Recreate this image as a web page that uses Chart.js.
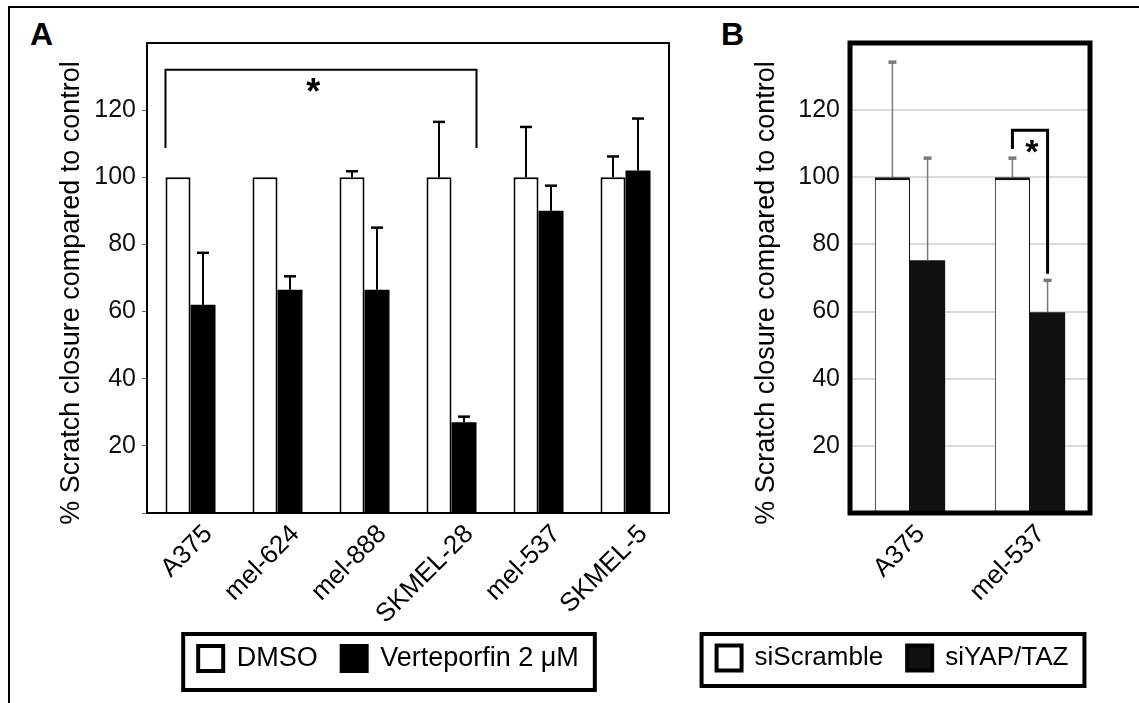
<!DOCTYPE html>
<html>
<head>
<meta charset="utf-8">
<script src="https://cdn.jsdelivr.net/npm/chart.js@4.4.1/dist/chart.umd.min.js"></script>
<style>
  body { margin: 0; background: #fff; width: 1139px; height: 703px; overflow: hidden; position: relative;
         font-family: 'Liberation Sans', Arial, Helvetica, sans-serif; }
  #frame { position: absolute; left: 8px; top: 6px; width: 1131px; height: 697px; box-sizing: border-box;
           border-top: 2px solid #000; border-left: 2px solid #000; }
  .tag { position: absolute; font-weight: bold; font-size: 32px; line-height: 32px; }
  #chartA { position: absolute; left: 0; top: 0; }
  #chartB { position: absolute; left: 640px; top: 0; }
</style>
</head>
<body>
<div id="frame"></div>
<div class="tag" style="left:30px; top:18px">A</div>
<div class="tag" style="left:721px; top:18px">B</div>
<canvas id="chartA" width="700" height="703"></canvas>
<canvas id="chartB" width="499" height="703"></canvas>
<script>
// panel A: verteporfin
const cellLinesA = ['A375', 'mel-624', 'mel-888', 'SKMEL-28', 'mel-537', 'SKMEL-5'];
const dmso = [100, 100, 100, 100, 100, 100];
const dmsoErr = [0, 0, 1.8, 16.5, 15, 6.2];
const verteporfin = [62, 66.5, 66.5, 27, 90, 102];
const verteporfinErr = [15.5, 4, 18.5, 1.7, 7.5, 15.5];

// panel B: siRNA
const cellLinesB = ['A375', 'mel-537'];
const siScramble = [100, 100];
const siScrambleErr = [34.3, 5.7];
const siYapTaz = [75.3, 59.8];
const siYapTazErr = [30.4, 9.5];

const yTicks = [20, 40, 60, 80, 100, 120];
const yMax = 140;
const yTitle = '% Scratch closure compared to control\u00a0\u00a0\u00a0\u00a0';

const PLOT_BOTTOM = 513;
const LEGEND_ROW_TOP = 645;

Chart.defaults.font.family = "'Liberation Sans', Arial, Helvetica, sans-serif";
Chart.defaults.color = '#000';
Chart.defaults.animation = false;

// error bars, plot frame, significance bracket, box round the legend
function makeExtras(cfg) {
    return {
        id: 'extras',
        afterUpdate(chart) {
            const lg = chart.legend;
            const boxes = lg.legendHitBoxes;
            const dx = cfg.legendCenter - (lg.left + lg.right) / 2;
            const dy = LEGEND_ROW_TOP - boxes[0].top;
            lg.left += dx;
            lg.right += dx;
            lg.top += dy;
            lg.bottom += dy;
            boxes.forEach(h => { h.left += dx; h.top += dy; });
        },
        afterDatasetsDraw(chart) {
            const ctx = chart.ctx;
            const a = chart.chartArea;
            const y = chart.scales.y;
            ctx.save();
            chart.data.datasets.forEach((ds, i) => {
                chart.getDatasetMeta(i).data.forEach((bar, j) => {
                    const e = ds.errors[j];
                    if (!e) return;
                    const top = y.getPixelForValue(ds.data[j] + e);
                    ctx.strokeStyle = cfg.errColor;
                    ctx.lineWidth = cfg.errWidth;
                    ctx.beginPath();
                    ctx.moveTo(bar.x, bar.y);
                    ctx.lineTo(bar.x, top);
                    ctx.stroke();
                    ctx.lineWidth = cfg.capWidth;
                    ctx.beginPath();
                    ctx.moveTo(bar.x - cfg.cap, top);
                    ctx.lineTo(bar.x + cfg.cap, top);
                    ctx.stroke();
                });
            });

            ctx.strokeStyle = '#000';
            ctx.lineWidth = cfg.frameWidth;
            ctx.strokeRect(a.left, a.top, a.right - a.left, a.bottom - a.top);

            const b = cfg.bracket;
            const p1 = chart.getDatasetMeta(b.from[0]).data[b.from[1]];
            const p2 = chart.getDatasetMeta(b.to[0]).data[b.to[1]];
            const x1 = p1.x + b.from[2] * p1.width / 2;
            const x2 = p2.x + b.to[2] * p2.width / 2;
            const yTop = y.getPixelForValue(b.top);
            ctx.lineWidth = b.width;
            ctx.beginPath();
            ctx.moveTo(x1, y.getPixelForValue(b.leftEnd));
            ctx.lineTo(x1, yTop);
            ctx.lineTo(x2, yTop);
            ctx.lineTo(x2, y.getPixelForValue(b.rightEnd));
            ctx.stroke();
            ctx.font = 'bold ' + b.starSize + "px 'Liberation Sans', Arial, sans-serif";
            ctx.fillStyle = '#000';
            ctx.textAlign = 'center';
            ctx.textBaseline = 'alphabetic';
            ctx.fillText('*', x1 + (x2 - x1) * b.starAt, y.getPixelForValue(b.starValue) + b.starSize * 0.57);
            ctx.restore();
        },
        afterDraw(chart) {
            const boxes = chart.legend.legendHitBoxes;
            const l = Math.min(...boxes.map(h => h.left)) - 17;
            const r = Math.max(...boxes.map(h => h.left + h.width)) + 18;
            const t = boxes[0].top - 13;
            const btm = boxes[0].top + boxes[0].height + cfg.legendBottomPad;
            const ctx = chart.ctx;
            ctx.save();
            ctx.strokeStyle = '#000';
            ctx.lineWidth = 4;
            ctx.strokeRect(l + 2, t + 2, r - l - 4, btm - t - 4);
            ctx.restore();
        }
    };
}

function legendOptions(size) {
    return {
        position: 'bottom',
        labels: {
            font: { size: size },
            color: '#000',
            boxWidth: 25,
            boxHeight: 25,
            padding: 24,
            generateLabels: chart => Chart.defaults.plugins.legend.labels.generateLabels(chart)
                .map(item => Object.assign(item, { lineWidth: 4, strokeStyle: '#000' }))
        }
    };
}

function xOptions(offset) {
    return {
        grid: { display: false, drawTicks: false },
        border: { display: false },
        ticks: { font: { size: 26 }, color: '#000', maxRotation: 45, minRotation: 45,
                 autoSkip: false, labelOffset: offset, padding: 6 },
        // keep the plot bottom fixed whatever height the legend takes
        afterFit: s => { s.height = 703 - PLOT_BOTTOM - (s.chart.legend ? s.chart.legend.height : 0); }
    };
}

function yOptions(width, titlePad, tickPad, grid) {
    return {
        min: 0,
        max: yMax,
        border: { display: false },
        grid: grid,
        ticks: { stepSize: 20, font: { size: 25 }, color: '#111', padding: tickPad,
                 callback: v => yTicks.includes(v) ? v : '' },
        title: { display: true, text: yTitle, font: { size: 27 }, color: '#000',
                 padding: { top: titlePad, bottom: 0 } },
        afterFit: s => { s.width = width; }
    };
}

new Chart(document.getElementById('chartA'), {
    type: 'bar',
    data: {
        labels: cellLinesA,
        datasets: [
            { label: 'DMSO', data: dmso, errors: dmsoErr, backgroundColor: '#fff',
              borderColor: '#000', borderWidth: 2 },
            { label: 'Verteporfin 2 μM', data: verteporfin, errors: verteporfinErr,
              backgroundColor: '#000', borderColor: '#000', borderWidth: 0 }
        ]
    },
    options: {
        responsive: false,
        layout: { padding: { top: 43, right: 31, bottom: 0, left: 0 } },
        datasets: { bar: { categoryPercentage: 0.575, barPercentage: 1 } },
        plugins: { legend: legendOptions(27), tooltip: { enabled: false } },
        scales: {
            x: xOptions(18),
            y: yOptions(147, 55, 6, {
                drawOnChartArea: false, drawTicks: true, tickLength: 5,
                color: c => c.tick && c.tick.value === yMax ? 'rgba(0,0,0,0)' : '#666'
            })
        }
    },
    plugins: [makeExtras({
        legendCenter: 388.5, legendBottomPad: 20,
        errColor: '#000', errWidth: 2, capWidth: 2.5, cap: 6, frameWidth: 2,
        bracket: { from: [0, 0, -1], to: [1, 3, 1], top: 132, leftEnd: 108.7, rightEnd: 108.7,
                   width: 2, starAt: 0.475, starValue: 128, starSize: 36 }
    })]
});

new Chart(document.getElementById('chartB'), {
    type: 'bar',
    data: {
        labels: cellLinesB,
        datasets: [
            { label: 'siScramble', data: siScramble, errors: siScrambleErr, backgroundColor: '#fff',
              borderColor: '#111', borderWidth: { top: 3, left: 1, right: 1, bottom: 0 } },
            { label: 'siYAP/TAZ', data: siYapTaz, errors: siYapTazErr,
              backgroundColor: '#111', borderColor: '#111', borderWidth: 0 }
        ]
    },
    options: {
        responsive: false,
        layout: { padding: { top: 43, right: 49, bottom: 0, left: 0 } },
        datasets: { bar: { categoryPercentage: 0.586, barPercentage: 1 } },
        plugins: { legend: legendOptions(26), tooltip: { enabled: false } },
        scales: {
            x: xOptions(11),
            y: yOptions(210, 110, 10, {
                drawOnChartArea: true, drawTicks: false, lineWidth: 2,
                color: c => c.tick && (c.tick.value === 0 || c.tick.value === yMax) ? 'rgba(0,0,0,0)' : '#dadada'
            })
        }
    },
    plugins: [makeExtras({
        legendCenter: 252.5, legendBottomPad: 17,
        errColor: '#7a7a7a', errWidth: 1.5, capWidth: 3.5, cap: 4, frameWidth: 5,
        bracket: { from: [0, 1, 0], to: [1, 1, 0], top: 114, leftEnd: 108.4, rightEnd: 71.3,
                   width: 3, starAt: 0.55, starValue: 109.9, starSize: 34 }
    })]
});
</script>
</body>
</html>
